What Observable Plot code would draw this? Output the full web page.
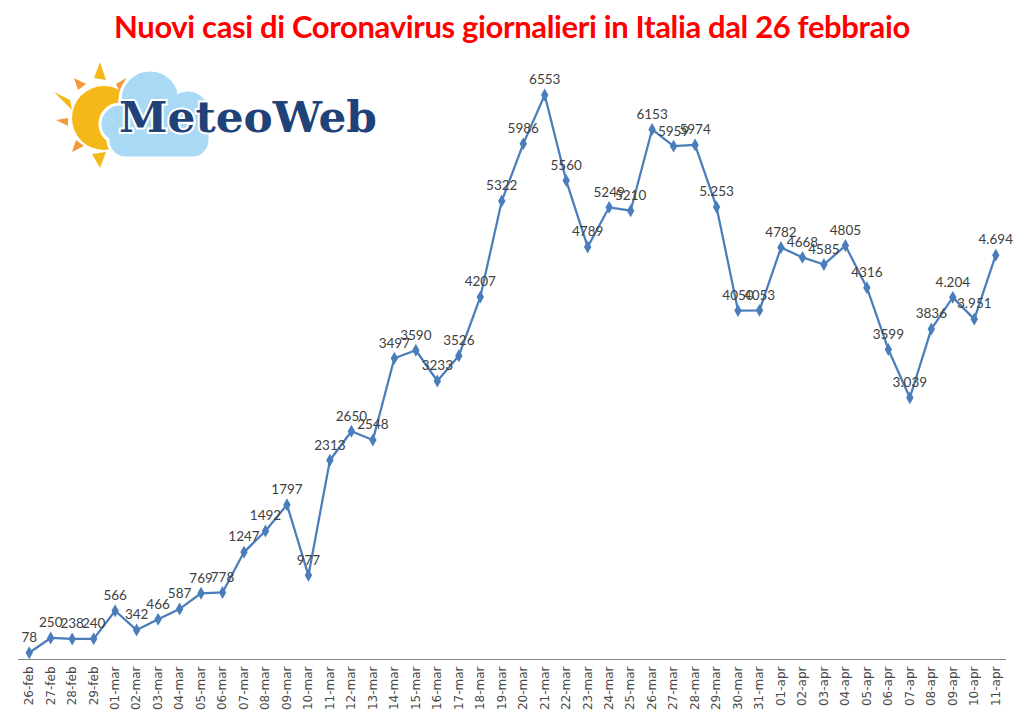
<!DOCTYPE html>
<html>
<head>
<meta charset="utf-8">
<script src="https://cdn.jsdelivr.net/npm/d3@7"></script>
<script src="https://cdn.jsdelivr.net/npm/@observablehq/plot@0.6"></script>
<style>
  html, body { margin: 0; padding: 0; background: #fff; }
  #wrap { position: relative; width: 1024px; height: 723px; overflow: hidden; }
  #title { height: 50px; margin: 0; text-align: center; font-family: Lato, "Open Sans", sans-serif; font-weight: 700; font-size: 31px; color: #ff0000; line-height: 52px; letter-spacing: -0.35px; }
  #logo { position: absolute; left: 0; top: 0; pointer-events: none; }
</style>
</head>
<body>
<div id="wrap">
  <div id="title">Nuovi casi di Coronavirus giornalieri in Italia dal 26 febbraio</div>
  <div id="chart"></div>
  <svg id="logo" width="1024" height="200" viewBox="0 0 1024 200">
    <g fill="#f4b818">
      <polygon points="94,78 100,62 106,80"/>
      <polygon points="70,100 54,92 72,110"/>
      <polygon points="92,154 100,168 106,152"/>
    </g>
    <g fill="#f29a3c">
      <polygon points="78,90 74,78 86,84"/>
      <polygon points="116,84 126,78 120,92"/>
      <polygon points="68,118 56,120 68,126"/>
      <polygon points="76,140 72,152 84,146"/>
    </g>
    <circle cx="104" cy="118" r="32" fill="#f4b818"/>
    <g fill="#a9d9f4" stroke="#ffffff" stroke-width="3">
      <circle cx="150" cy="100" r="30"/>
      <circle cx="188" cy="112" r="22"/>
      <circle cx="120" cy="124" r="20"/>
      <rect x="108" y="112" width="102" height="46" rx="18"/>
    </g>
    <g fill="#a9d9f4">
      <circle cx="150" cy="100" r="28"/>
      <circle cx="188" cy="112" r="20"/>
      <circle cx="120" cy="124" r="18"/>
      <rect x="110" y="114" width="98" height="42" rx="16"/>
    </g>
    <text x="119" y="132" textLength="258" lengthAdjust="spacingAndGlyphs" font-family="'DejaVu Serif', 'Liberation Serif', serif" font-weight="700" font-size="42" fill="#1f4378" stroke="#ffffff" stroke-width="4" paint-order="stroke">MeteoWeb</text>
  </svg>
</div>
<script>
const dates = ["26-feb","27-feb","28-feb","29-feb",
  "01-mar","02-mar","03-mar","04-mar","05-mar","06-mar","07-mar","08-mar","09-mar","10-mar",
  "11-mar","12-mar","13-mar","14-mar","15-mar","16-mar","17-mar","18-mar","19-mar","20-mar",
  "21-mar","22-mar","23-mar","24-mar","25-mar","26-mar","27-mar","28-mar","29-mar","30-mar","31-mar",
  "01-apr","02-apr","03-apr","04-apr","05-apr","06-apr","07-apr","08-apr","09-apr","10-apr","11-apr"];
const cases = [78,250,238,240,
  566,342,466,587,769,778,1247,1492,1797,977,
  2313,2650,2548,3497,3590,3233,3526,4207,5322,5986,
  6553,5560,4789,5249,5210,6153,5959,5974,5253,4050,4053,
  4782,4668,4585,4805,4316,3599,3039,3836,4204,3951,4694];
const labels = ["78","250","238","240",
  "566","342","466","587","769","778","1247","1492","1797","977",
  "2313","2650","2548","3497","3590","3233","3526","4207","5322","5986",
  "6553","5560","4789","5249","5210","6153","5959","5974","5.253","4050","4053",
  "4782","4668","4585","4805","4316","3599","3.039","3836","4.204","3.951","4.694"];

const data = dates.map((d, i) => ({date: d, value: cases[i], label: labels[i]}));

const chart = Plot.plot({
  width: 1024,
  height: 673,
  marginLeft: 18,
  marginRight: 18,
  marginTop: 6,
  marginBottom: 64,
  style: {fontFamily: "'DejaVu Sans', Verdana, sans-serif", background: "transparent"},
  x: {type: "point", domain: dates, padding: 0.5, round: false, label: null},
  y: {domain: [0, 7000], axis: null},
  marks: [
    Plot.ruleY([0], {stroke: "#868686", strokeWidth: 1}),
    Plot.axisX({tickRotate: -90, tickSize: 0, tickPadding: 7, fontSize: 12, fill: "#4a4a4a", label: null}),
    Plot.line(data, {x: "date", y: "value", stroke: "#4a7ebb", strokeWidth: 2.25}),
    Plot.dot(data, {x: "date", y: "value", symbol: "diamond", r: 3, fill: "#4a7ebb", stroke: "#4a7ebb"}),
    Plot.text(data, {x: "date", y: "value", text: "label", dy: -15, fontSize: 13.5, fill: "#404040", fontFamily: "Lato, 'Open Sans', sans-serif"})
  ]
});
document.getElementById("chart").appendChild(chart);
</script>
</body>
</html>
